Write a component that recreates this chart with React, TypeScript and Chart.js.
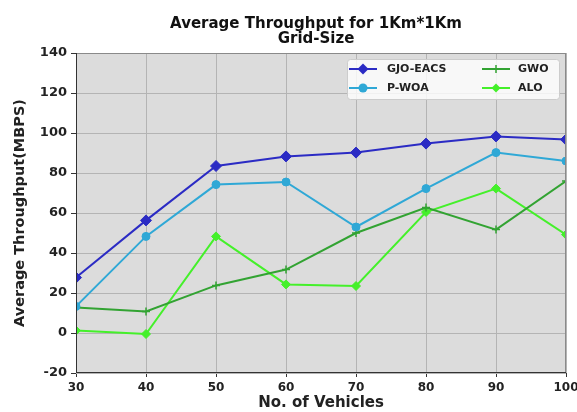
import React, { useEffect, useRef } from "react";
import { Chart, registerables } from "chart.js";

Chart.register(...registerables);

const vehicles = [30, 40, 50, 60, 70, 80, 90, 100];
const gjoEacs = [27.7, 56.3, 83.5, 88.3, 90.2, 94.7, 98.3, 96.7];
const pWoa = [13.3, 48.3, 74.2, 75.5, 53, 72.2, 90.2, 86];
const gwo = [12.7, 10.8, 23.8, 31.7, 50, 62.7, 51.7, 76];
const alo = [1.2, -0.5, 48.3, 24.3, 23.5, 60.5, 72.2, 49.2];

const titleLines = ["Average Throughput for 1Km*1Km", "Grid-Size"];
const xTitle = "No. of Vehicles";
const yTitle = "Average Throughput(MBPS)";

const FONT = "'DejaVu Sans', sans-serif";

const series = [
  { label: "GJO-EACS", data: gjoEacs, color: "#2b2bc4", style: "rectRot", r: 5.5, bw: 1 },
  { label: "P-WOA", data: pWoa, color: "#2fa8d6", style: "circle", r: 4, bw: 1 },
  { label: "GWO", data: gwo, color: "#32a332", style: "cross", r: 4, bw: 1.5 },
  { label: "ALO", data: alo, color: "#44f02a", style: "rectRot", r: 4.5, bw: 1 },
];

function drawMarker(ctx: CanvasRenderingContext2D, style: string, x: number, y: number, r: number, color: string) {
  ctx.save();
  ctx.fillStyle = color;
  ctx.strokeStyle = color;
  ctx.lineWidth = 1.5;
  ctx.beginPath();
  if (style === "circle") {
    ctx.arc(x, y, r + 0.5, 0, Math.PI * 2);
    ctx.fill();
  } else if (style === "rectRot") {
    ctx.moveTo(x, y - r);
    ctx.lineTo(x + r, y);
    ctx.lineTo(x, y + r);
    ctx.lineTo(x - r, y);
    ctx.closePath();
    ctx.fill();
  } else if (style === "cross") {
    ctx.moveTo(x - r, y);
    ctx.lineTo(x + r, y);
    ctx.moveTo(x, y - r);
    ctx.lineTo(x, y + r);
    ctx.stroke();
  }
  ctx.restore();
}

const bgPlugin = {
  id: "plotBg",
  beforeDraw(chart: any) {
    const { ctx, chartArea } = chart;
    ctx.save();
    ctx.fillStyle = "#dcdcdc";
    ctx.fillRect(chartArea.left, chartArea.top, chartArea.right - chartArea.left, chartArea.bottom - chartArea.top);
    // title, centred over the plot area
    ctx.fillStyle = "#111";
    ctx.font = `bold 15px ${FONT}`;
    ctx.textAlign = "center";
    ctx.textBaseline = "middle";
    const cx = (chartArea.left + chartArea.right) / 2 - 5;
    titleLines.forEach((t, i) => ctx.fillText(t, cx, 24.5 + i * 15));
    ctx.restore();
  },
  afterDatasetsDraw(chart: any) {
    const { ctx, chartArea } = chart;
    const { left, right, top, bottom } = chartArea;
    ctx.save();
    ctx.lineWidth = 1;
    ctx.strokeStyle = "#8a8a8a";
    ctx.beginPath();
    ctx.moveTo(left, top + 0.5);
    ctx.lineTo(right, top + 0.5);
    ctx.moveTo(right - 0.5, top);
    ctx.lineTo(right - 0.5, bottom);
    ctx.stroke();
    ctx.strokeStyle = "#333";
    ctx.beginPath();
    ctx.moveTo(left + 0.5, top);
    ctx.lineTo(left + 0.5, bottom);
    ctx.moveTo(left, bottom - 0.5);
    ctx.lineTo(right, bottom - 0.5);
    ctx.stroke();
    ctx.restore();
  },
  afterDraw(chart: any) {
    const { ctx, chartArea } = chart;
    const bx = chartArea.right - 219;
    const by = chartArea.top + 6;
    const bw = 212;
    const bh = 40;
    ctx.save();
    ctx.fillStyle = "rgba(255,255,255,0.8)";
    ctx.strokeStyle = "#cccccc";
    ctx.lineWidth = 1;
    ctx.beginPath();
    if ((ctx as any).roundRect) (ctx as any).roundRect(bx + 0.5, by + 0.5, bw, bh, 3);
    else ctx.rect(bx + 0.5, by + 0.5, bw, bh);
    ctx.fill();
    ctx.stroke();
    const cols = [bx + 2, bx + 135];
    const rows = [by + 10, by + 29];
    ctx.font = `bold 11px ${FONT}`;
    ctx.textBaseline = "middle";
    series.forEach((s, i) => {
      const col = Math.floor(i / 2);
      const row = i % 2;
      const x0 = cols[col];
      const y0 = rows[row];
      ctx.strokeStyle = s.color;
      ctx.lineWidth = 2;
      ctx.beginPath();
      ctx.moveTo(x0, y0);
      ctx.lineTo(x0 + 28, y0);
      ctx.stroke();
      drawMarker(ctx, s.style, x0 + 14, y0, s.r, s.color);
      ctx.fillStyle = "#222";
      ctx.fillText(s.label, x0 + (col === 0 ? 38 : 36), y0 + 0.5);
    });
    ctx.restore();
  },
};

export default function App() {
  const ref = useRef<HTMLCanvasElement | null>(null);
  useEffect(() => {
    document.body.style.margin = "0";
    const canvas = ref.current;
    if (!canvas) return;
    const chart = new Chart(canvas, {
      type: "line",
      data: {
        datasets: series.map((s) => ({
          label: s.label,
          data: vehicles.map((v, i) => ({ x: v, y: s.data[i] })),
          borderColor: s.color,
          backgroundColor: s.color,
          pointBackgroundColor: s.color,
          pointBorderColor: s.color,
          pointStyle: s.style as any,
          pointRadius: s.r,
          pointBorderWidth: s.bw,
          borderWidth: 2,
          tension: 0,
          fill: false,
        })),
      },
      options: {
        animation: false,
        responsive: false,
        devicePixelRatio: 1,
        layout: { padding: { top: 53, left: 4, right: 0, bottom: 0 } },
        plugins: {
          legend: { display: false },
          tooltip: { enabled: false },
          title: { display: false },
        },
        scales: {
          x: {
            type: "linear",
            min: 30,
            max: 100,
            afterFit: (s: any) => { s.height = 39; s.paddingRight = 11; s.paddingLeft = 0; },
            ticks: { stepSize: 10, color: "#222", font: { family: FONT, size: 12, weight: "bold" }, padding: 4 },
            grid: { color: "#b4b4b4", tickColor: "#333", tickLength: 4, drawTicks: true },
            border: { display: false },
            title: { display: true, text: xTitle, color: "#222", font: { family: FONT, size: 15, weight: "bold" }, padding: { top: 0, bottom: 0 } },
          },
          y: {
            min: -20,
            max: 140,
            afterFit: (s: any) => { s.width = 72; },
            ticks: { stepSize: 20, color: "#222", font: { family: FONT, size: 13, weight: "bold" }, padding: 4 },
            grid: { color: "#b4b4b4", tickColor: "#333", tickLength: 5, drawTicks: true },
            border: { display: false },
            title: { display: true, text: yTitle, color: "#222", font: { family: FONT, size: 14.5, weight: "bold" }, padding: { top: 8, bottom: 0 } },
          },
        },
      },
      plugins: [bgPlugin],
    });
    return () => chart.destroy();
  }, []);
  return (
    <div style={{ width: 577, height: 412, background: "#fff" }}>
      <canvas ref={ref} width={577} height={412} style={{ display: "block" }} />
    </div>
  );
}
